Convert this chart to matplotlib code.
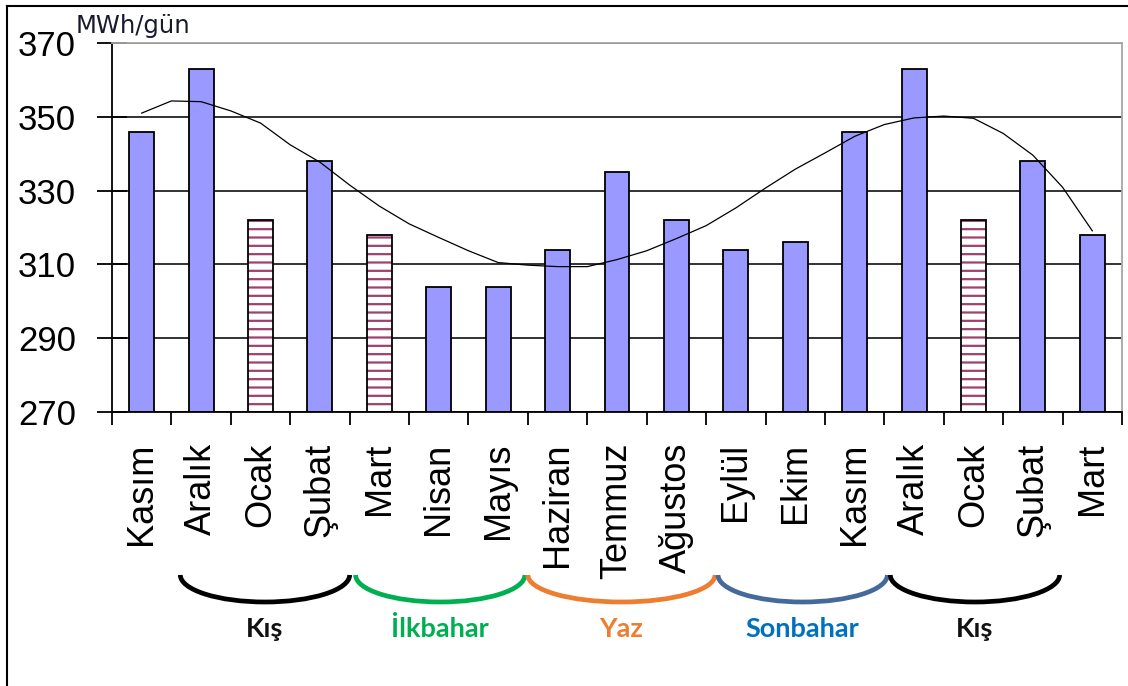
import numpy as np
import matplotlib.pyplot as plt
from matplotlib.patches import Arc
from matplotlib.lines import Line2D

plt.rcParams['font.family'] = ['Liberation Sans', 'DejaVu Sans']
plt.rcParams['hatch.linewidth'] = 1.6

# monthly consumption, MWh/gün
months = ["Kasım", "Aralık", "Ocak", "Şubat", "Mart", "Nisan", "Mayıs", "Haziran",
          "Temmuz", "Ağustos", "Eylül", "Ekim", "Kasım", "Aralık", "Ocak", "Şubat", "Mart"]
consumption = [346, 363, 322, 338, 318, 304, 304, 314, 335, 322, 314, 316,
               346, 363, 322, 338, 318]
hatched = [False, False, True, False, True, False, False, False, False, False,
           False, False, False, False, True, False, False]

# trend curve read at every half month
trend_pos = np.arange(0, 16.5, 0.5)
trend = [351.0, 354.3, 354.1, 351.6, 348.3, 342.4, 337.7, 331.5, 325.8, 321.0,
         317.3, 313.7, 310.5, 309.8, 309.4, 309.4, 311.3, 313.7, 317.0, 320.5,
         325.3, 330.7, 335.8, 340.2, 344.7, 347.9, 349.7, 350.2, 349.6, 345.5,
         339.6, 330.9, 319.1]

seasons = ["Kış", "İlkbahar", "Yaz", "Sonbahar", "Kış"]
season_start = [0.65, 3.6, 6.5, 9.7, 12.6]
season_end = [3.5, 6.45, 9.65, 12.55, 15.45]
arc_colors = ["#000000", "#00B050", "#ED7D31", "#46699B", "#000000"]
text_colors = ["#111111", "#00B050", "#ED7D31", "#0070C0", "#111111"]

W, H = 1128, 686
fig = plt.figure(figsize=(W / 100, H / 100), dpi=100)
ax = fig.add_axes([112 / W, 1 - 412 / H, 1010 / W, 369 / H])

x = np.arange(len(months))
plain = [i for i in x if not hatched[i]]
striped = [i for i in x if hatched[i]]

ax.bar(plain, [consumption[i] - 270 for i in plain], bottom=270, width=0.42,
       color="#9999FF", edgecolor="black", linewidth=1.3, zorder=2)
ax.bar(striped, [consumption[i] - 270 for i in striped], bottom=270, width=0.42,
       color="white", edgecolor="#A0406F", hatch="--", linewidth=0, zorder=2)
ax.bar(striped, [consumption[i] - 270 for i in striped], bottom=270, width=0.42,
       fill=False, edgecolor="black", linewidth=1.3, zorder=3)

ax.plot(trend_pos, trend, color="black", linewidth=0.9, zorder=4)

ax.set_xlim(-0.5, 16.5)
ax.set_ylim(270, 370)
ax.set_yticks(np.arange(270, 371, 20))
ax.yaxis.grid(True, color="#222222", linewidth=1.3)
ax.set_axisbelow(True)
ax.tick_params(axis="y", direction="inout", length=22, width=1.3, pad=15,
               labelsize=25, colors="black")

ax.set_xticks(x)
ax.set_xticklabels(months, rotation=90, fontsize=26, va="top", ha="center")
ax.set_xticks(np.arange(-0.5, 17, 1), minor=True)
ax.tick_params(axis="x", which="major", length=0, pad=22)
ax.tick_params(axis="x", which="minor", direction="out", length=9.4, width=1.3)

for side in ["left", "bottom"]:
    ax.spines[side].set_color("black")
    ax.spines[side].set_linewidth(1.3)
for side in ["top", "right"]:
    ax.spines[side].set_color("#A6A6A6")
    ax.spines[side].set_linewidth(1.3)

fig.text(76 / W, 1 - 33 / H, "MWh/gün", fontsize=17.5, family="DejaVu Sans",
         color="#1a1a2e", va="baseline", ha="left")

# season brackets below the month labels
deco = fig.add_axes([112 / W, 0, 1010 / W, 1 - 412 / H])
deco.set_xlim(-0.5, 16.5)
deco.set_ylim(H, 412)
deco.axis("off")
for name, s, e, ac, tc in zip(seasons, season_start, season_end, arc_colors, text_colors):
    mid = (s + e) / 2
    deco.add_patch(Arc((mid, 575), e - s, 54, theta1=0, theta2=180,
                       color=ac, linewidth=3.4, clip_on=False))
    deco.text(mid, 637, name, family="Lato", fontweight="bold", fontsize=19.5,
              color=tc, ha="center", va="baseline")

# outer frame
fig.add_artist(Line2D([7 / W, 1], [1 - 6 / H, 1 - 6 / H], color="black", linewidth=1.5))
fig.add_artist(Line2D([7 / W, 7 / W], [0, 1 - 6 / H], color="black", linewidth=1.5))

fig.savefig("out.png", dpi=100)
